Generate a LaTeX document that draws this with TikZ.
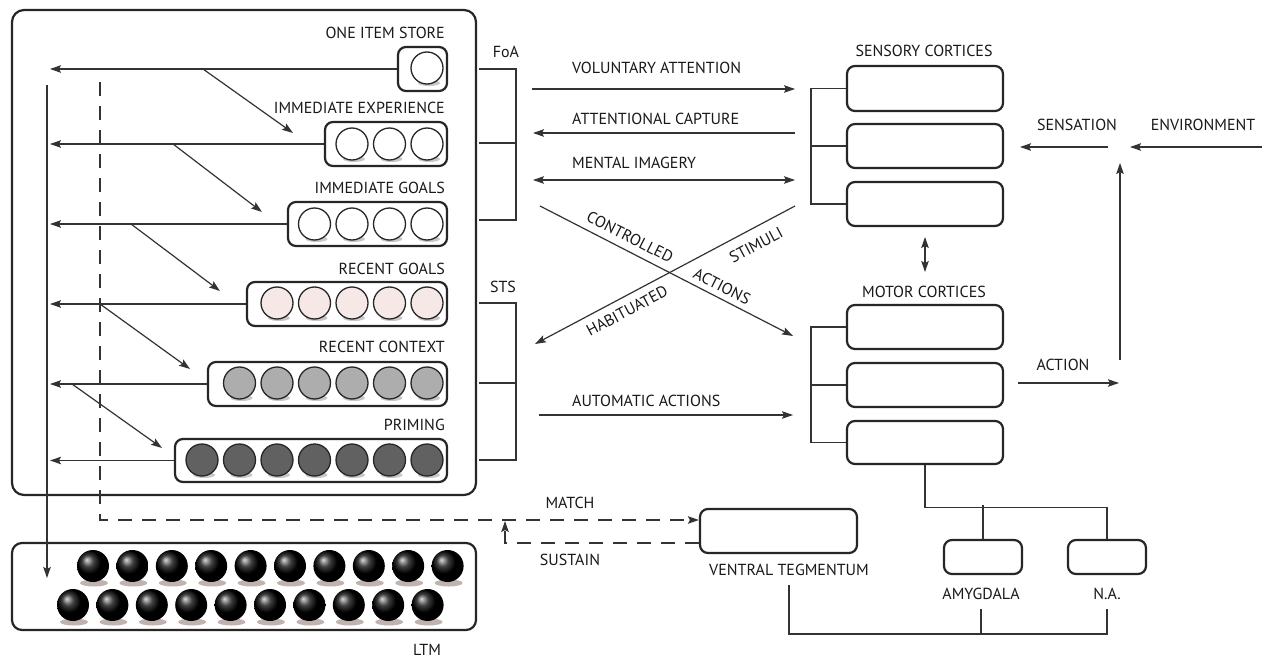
\documentclass[tikz,border=0pt]{standalone}
\usepackage{fontspec}
\setmainfont{PT Sans}
\usetikzlibrary{arrows.meta,calc}
\definecolor{pinkball}{RGB}{246,232,230}
\definecolor{ltmshadow}{RGB}{150,128,120}
\newcommand\stmballs[3]{%
  \foreach \k in {1,...,#2}{%
    \fill[black!30, opacity=.7] ({429-37.5*(\k-1)},{#1+15}) ellipse[x radius=11, y radius=3];
    \draw[line width=1.3pt, draw=black!85, fill=#3] ({427-37.5*(\k-1)},#1) circle[radius=16];
  }}
\begin{document}
\begin{tikzpicture}[x=1pt,y=-1pt,
  every node/.style={font=\fontsize{16}{18}\selectfont, inner sep=0pt, text=black!90},
  box/.style={draw=black!85, line width=2.2pt, rounded corners=8pt, inner sep=0pt},
  conn/.style={draw=black!80, line width=1.2pt},
  hd/.tip={Stealth[length=11pt,width=7.5pt,inset=2pt]},
  arr/.style={conn, -hd},
  darr/.style={conn, hd-hd},
  dsh/.style={dash pattern=on 14pt off 10pt}
]
\useasboundingbox[fill=white] (0,0) rectangle (1264,658);

% ---------- main STM box ----------
\node[box, rounded corners=12pt, minimum width=464pt, minimum height=485pt] (main) at (244,252.5) {};

\node[box, minimum width=49pt,  minimum height=44pt] (ois) at (422.5,69) {};
\node[box, minimum width=122pt, minimum height=44pt] (iex) at (386,144) {};
\node[box, minimum width=159pt, minimum height=44pt] (igo) at (367.5,224) {};
\node[box, minimum width=200pt, minimum height=44pt] (rgo) at (347,304) {};
\node[box, minimum width=239pt, minimum height=44pt] (rco) at (327.5,384) {};
\node[box, minimum width=272pt, minimum height=43pt] (pri) at (311,460.5) {};

\stmballs{68}{1}{white}
\stmballs{144}{3}{white}
\stmballs{224}{4}{white}
\stmballs{303}{5}{pinkball}
\stmballs{383}{6}{black!32}
\stmballs{460}{7}{black!62}

\node[anchor=east] (oisl) at (445,33) {ONE ITEM STORE};
\node[anchor=east] (iexl) at (445,108) {IMMEDIATE EXPERIENCE};
\node[anchor=east] (igol) at (445,188) {IMMEDIATE GOALS};
\node[anchor=east] (rgol) at (445,269) {RECENT GOALS};
\node[anchor=east] (rcol) at (445,347) {RECENT CONTEXT};
\node[anchor=east] (pril) at (445,425) {PRIMING};

% left arrows
\coordinate (lv) at (50,0);
\draw[arr] (ois.west) -- (ois.west -| lv);
\draw[arr] (iex.west) -- (iex.west -| lv);
\draw[arr] (igo.west) -- (igo.west -| lv);
\draw[arr] (rgo.west) -- (rgo.west -| lv);
\draw[arr] (rco.west) -- (rco.west -| lv);
\draw[arr] (pri.west) -- (pri.west -| lv);

% diagonal arrows
\draw[arr] (203,69) -- (293,133);
\draw[arr] (173,144) -- (262,212);
\draw[arr] (131,224) -- (220,291);
\draw[arr] (100,304) -- (190,369);
\draw[arr] (72,384) -- (162,448);

% ---------- LTM ----------
\node[box, rounded corners=10pt, minimum width=464pt, minimum height=87pt] (ltm) at (244,586.5) {};
\foreach \k in {0,...,9}{
  \fill[ltmshadow, opacity=.6] ({94+39.4*\k},583) ellipse[x radius=14, y radius=3.5];
  \shade[ball color=black] ({93+39.4*\k},566) circle[radius=16];
}
\foreach \k in {0,...,9}{
  \fill[ltmshadow, opacity=.6] ({74+39.4*\k},622) ellipse[x radius=14, y radius=3.5];
  \shade[ball color=black] ({73+39.4*\k},605) circle[radius=16];
}
\node (ltml) at (427,650) {LTM};

\coordinate (ltop) at (47,85);
\coordinate (lbot) at (47,578);
\draw[arr] (ltop) -- (lbot);

% ---------- FoA / STS brackets ----------
\node (foa) at (506,52) {FoA};
\node (sts) at (503,287) {STS};
\draw[conn] (479,69) -- (516,69) -- (516,220) -- (479,220);
\draw[conn] (479,143) -- (516,143);
\draw[conn] (479,303) -- (516,303) -- (516,460) -- (479,460);
\draw[conn] (479,383) -- (516,383);

% ---------- sensory / motor ----------
\node (scl) at (924,51) {SENSORY CORTICES};
\node[box, minimum width=156pt, minimum height=45pt] (s1) at (925,88.5) {};
\node[box, minimum width=156pt, minimum height=44pt] (s2) at (925,146) {};
\node[box, minimum width=156pt, minimum height=44pt] (s3) at (925,204) {};
\draw[conn] (s1.west) -- ++(-35,0) |- (s3.west);
\draw[conn] (s2.west) -- ++(-35,0);

\node (mcl) at (924,292) {MOTOR CORTICES};
\node[box, minimum width=156pt, minimum height=44pt] (m1) at (925,327) {};
\node[box, minimum width=156pt, minimum height=44pt] (m2) at (925,385) {};
\node[box, minimum width=156pt, minimum height=43pt] (m3) at (925,442.5) {};
\draw[conn] (m1.west) -- ++(-35,0) |- (m3.west);
\draw[conn] (m2.west) -- ++(-35,0);

\coordinate (smt) at (925,237);
\coordinate (smb) at (925,272);
\draw[darr] (smt) -- (smb);

% ---------- middle arrows ----------
\coordinate (vaL) at (532,89);  \coordinate (vaR) at (795,89);
\coordinate (acL) at (533,133); \coordinate (acR) at (795,133);
\coordinate (miL) at (533,180); \coordinate (miR) at (795,180);
\coordinate (aaL) at (539,415); \coordinate (aaR) at (793,415);
\draw[arr] (vaL) -- (vaR);
\draw[arr] (acR) -- (acL);
\draw[darr] (miL) -- (miR);
\draw[arr] (aaL) -- (aaR);
\node[anchor=west] (val) at (572,68) {VOLUNTARY ATTENTION};
\node[anchor=west] (acl) at (572,119) {ATTENTIONAL CAPTURE};
\node[anchor=west] (mil) at (572,163) {MENTAL IMAGERY};
\node[anchor=west] (aal) at (572,401) {AUTOMATIC ACTIONS};

\coordinate (caS) at (540,206); \coordinate (caE) at (793,336);
\coordinate (shS) at (795,206); \coordinate (shE) at (535,344);
\draw[arr] (caS) -- (caE);
\draw[arr] (shS) -- (shE);
\node[rotate=-27] (ctl) at (630,237) {CONTROLLED};
\node[rotate=-27] (actl) at (722,286) {ACTIONS};
\node[rotate=28] (stl) at (756,245) {STIMULI};
\node[rotate=28] (hbl) at (627,311) {HABITUATED};

% ---------- environment loop ----------
\coordinate (envR) at (1262,147);
\coordinate (envT) at (1130,147);
\coordinate (senR) at (1108,147);
\coordinate (senT) at (1020,147);
\coordinate (actS) at (1018,383);
\coordinate (actT) at (1119,383);
\coordinate (upS) at (1120,360);
\coordinate (upT) at (1120,163);
\draw[arr] (envR) -- (envT);
\draw[arr] (senR) -- (senT);
\draw[arr] (actS) -- (actT);
\draw[arr] (upS) -- (upT);
\node (senl) at (1077,125) {SENSATION};
\node (envl) at (1203,125) {ENVIRONMENT};
\node (actl2) at (1063,365) {ACTION};

% ---------- VT / amygdala / NA ----------
\node[box, minimum width=157pt, minimum height=44pt] (vt) at (778.5,531) {};
\node[box, minimum width=78pt, minimum height=34pt] (amy) at (983,557) {};
\node[box, minimum width=78pt, minimum height=34pt] (na) at (1107,557) {};
\node (vtl) at (789,570) {VENTRAL TEGMENTUM};
\node (amyl) at (981,594) {AMYGDALA};
\node (nal) at (1107,594) {N.A.};

\coordinate (bline) at (0,634);
\draw[conn] (m3.south) -- ++(0,42) -| (na.north);
\draw[conn] (amy.north) -- ++(0,-34);
\draw[conn] ([yshift=-9pt]vtl.south) -- (vtl.south |- bline) -| ([yshift=-9pt]nal.south);
\draw[conn] ([yshift=-9pt]amyl.south) -- (amyl.south |- bline);

% ---------- MATCH / SUSTAIN ----------
\coordinate (dtop) at (100,82);
\coordinate (dcor) at (100,520);
\coordinate (sust) at (505,543);
\coordinate (sustT) at (505,521);
\draw[conn, dsh, -hd] (dtop) -- (dcor) -- ([yshift=11pt]vt.west);
\draw[conn, dsh, -hd] ([yshift=-12pt]vt.west) -- (sust) -- (sustT);
\node (matl) at (570,503) {MATCH};
\node (susl) at (570,560) {SUSTAIN};
\end{tikzpicture}
\end{document}
